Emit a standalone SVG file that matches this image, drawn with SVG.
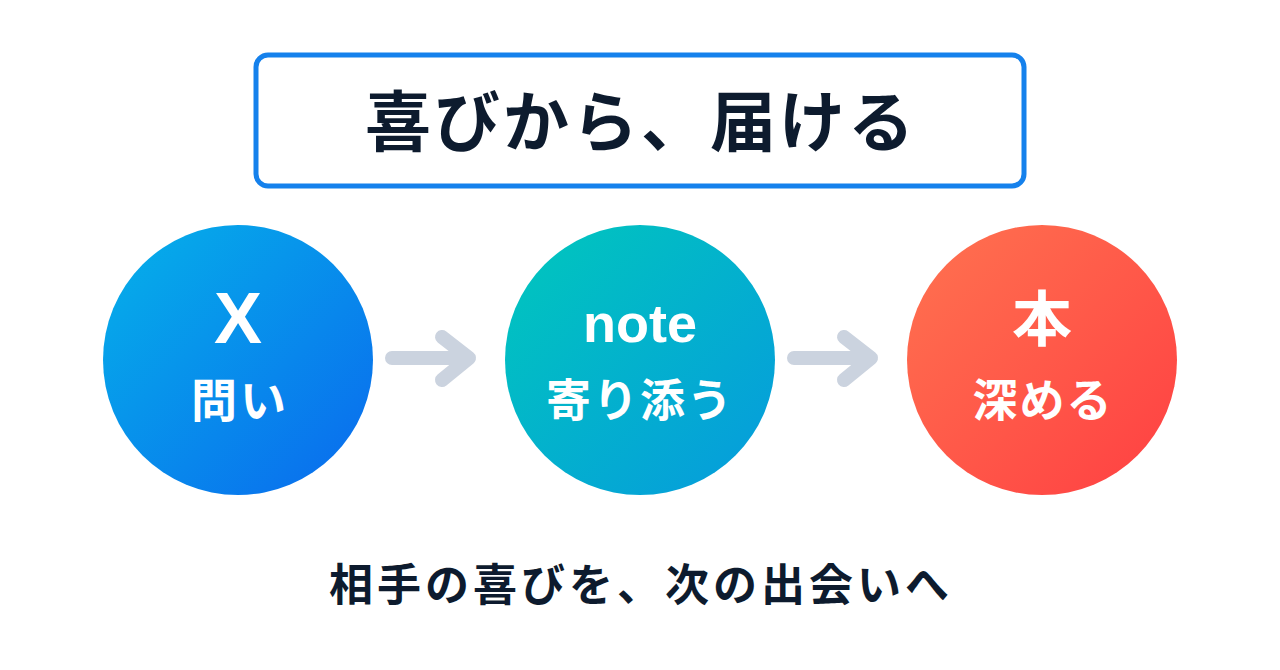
<svg xmlns="http://www.w3.org/2000/svg" width="1280" height="670" viewBox="0 0 1280 670">
  <style>
    .jp { font-family: "Noto Sans CJK JP", "Noto Sans", sans-serif; font-weight: 700; text-anchor: middle; }
    .lat { font-family: "Liberation Sans", Arial, sans-serif; font-weight: 700; text-anchor: middle; fill: #ffffff; }
    .dark { fill: #0D1B2E; }
    .white { fill: #ffffff; }
    .arrow { fill: none; stroke: #CBD3DF; stroke-width: 14; stroke-linecap: round; stroke-linejoin: round; }
  </style>
  <defs>
    <linearGradient id="gBlue" x1="0" y1="0" x2="1" y2="1">
      <stop offset="0" stop-color="#05B2E9"/>
      <stop offset="1" stop-color="#0A69EE"/>
    </linearGradient>
    <linearGradient id="gTeal" x1="0" y1="0" x2="1" y2="1">
      <stop offset="0" stop-color="#00C8BC"/>
      <stop offset="1" stop-color="#069ADE"/>
    </linearGradient>
    <linearGradient id="gRed" x1="0" y1="0" x2="1" y2="1">
      <stop offset="0" stop-color="#FF7350"/>
      <stop offset="1" stop-color="#FF3F42"/>
    </linearGradient>
  </defs>
  <rect width="1280" height="670" fill="#ffffff"/>

  <g id="title">
    <rect x="256" y="55" width="768" height="131" rx="12" ry="12" fill="#ffffff" stroke="#1581EC" stroke-width="5"/>
    <text class="jp dark" x="641" y="146" font-size="66" letter-spacing="3">喜びから、届ける</text>
  </g>

  <g id="connectors">
    <path class="arrow" d="M392 358 H468 M442 337 L469 358 L442 380"/>
    <path class="arrow" d="M794 358 H870 M844 337 L871 358 L844 380"/>
  </g>

  <g id="node-x">
    <circle cx="238" cy="360" r="135" fill="url(#gBlue)"/>
    <text class="lat" x="238" y="343" font-size="72">X</text>
    <text class="jp white" x="240" y="417" font-size="46" letter-spacing="3">問い</text>
  </g>

  <g id="node-note">
    <circle cx="640" cy="360" r="135" fill="url(#gTeal)"/>
    <text class="lat" x="640" y="342" font-size="54">note</text>
    <text class="jp white" x="640" y="417" font-size="45" letter-spacing="2">寄り添う</text>
  </g>

  <g id="node-book">
    <circle cx="1042" cy="360" r="135" fill="url(#gRed)"/>
    <text class="jp white" x="1042" y="341" font-size="60">本</text>
    <text class="jp white" x="1043" y="417" font-size="45" letter-spacing="2">深める</text>
  </g>

  <g id="caption">
    <text class="jp dark" x="641" y="601" font-size="44" letter-spacing="4">相手の喜びを、次の出会いへ</text>
  </g>
</svg>
